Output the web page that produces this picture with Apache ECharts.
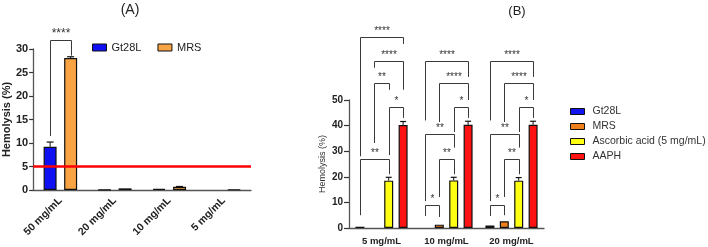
<!DOCTYPE html>
<html>
<head>
<meta charset="utf-8">
<script src="https://cdn.jsdelivr.net/npm/echarts@6/dist/echarts.min.js"></script>
<style>html,body{margin:0;padding:0;background:#fff}#c{width:708px;height:247px}</style>
</head>
<body>
<div id="c"></div>
<script>
// ---- Panel A data ----
const catsA = ['50 mg/mL', '20 mg/mL', '10 mg/mL', '5 mg/mL'];
const gtA = [9.2, 0.05, 0.25, 0.0];
const mrsA = [28.1, 0.35, 0.7, 0.1];
const gtAErr = [1.0, 0, 0, 0];
const mrsAErr = [0.25, 0, 0.05, 0];
const thresholdA = 5;
const yTicksA = [0, 5, 10, 15, 20, 25, 30];
// brackets: [category, leftBar, rightBar, top, leftEnd, rightEnd]
const bracketsA = [[0, 0, 1, 31.9, 11.5, 28.6]];
const bracketLabelsA = ['****'];

// ---- Panel B data ----
const catsB = ['5 mg/mL', '10 mg/mL', '20 mg/mL'];
const gtB = [0.5, 0, 1.0];
const mrsB = [0, 1.3, 2.6];
const ascB = [18.5, 18.6, 18.5];
const aaphB = [40.2, 40.3, 40.3];
const gtBErr = [0, 0, 0];
const mrsBErr = [0, 0, 0];
const ascBErr = [1.3, 1.2, 1.2];
const aaphBErr = [1.4, 1.4, 1.4];
const yTicksB = [0, 10, 20, 30, 40, 50];
const bracketsB = [
  [0, 0, 2, 27.0, 5.0, 21.0],
  [0, 2, 3, 47.3, 28.5, 43.0],
  [0, 1, 2, 56.6, 33.2, 54.0],
  [0, 1, 3, 65.2, 62.6, 54.0],
  [0, 0, 3, 74.6, 28.0, 71.9],
  [1, 0, 1, 9.0, 4.7, 4.3],
  [1, 1, 2, 27.0, 12.1, 21.0],
  [1, 0, 2, 36.7, 10.5, 31.4],
  [1, 2, 3, 47.3, 37.5, 43.0],
  [1, 1, 3, 56.6, 41.4, 50.0],
  [1, 0, 3, 65.2, 42.0, 59.0],
  [2, 0, 1, 9.0, 4.7, 5.0],
  [2, 1, 2, 27.0, 12.1, 21.0],
  [2, 0, 2, 36.7, 10.5, 31.4],
  [2, 2, 3, 47.3, 37.5, 43.0],
  [2, 1, 3, 56.6, 41.4, 50.0],
  [2, 0, 3, 65.2, 42.0, 59.0]
];
const bracketLabelsB = ['**', '*', '**', '****', '****', '*', '**', '**', '*', '****', '****', '*', '**', '**', '*', '****', '****'];

const colA = {gt: '#1010f5', mrs: '#f8a444'};
const colB = {gt: '#1414f0', mrs: '#f0801c', asc: '#ffff14', aaph: '#ff1212'};

const offsetsA = [-10.25, 10.25];
const offsetsB = [-21.6, -7.2, 7.2, 21.6];

function errRender(offsets, cap) {
  return function (params, api) {
    const c = api.value(0), v = api.value(1), e = api.value(2), s = api.value(3);
    if (!e) return null;
    const p0 = api.coord([c, v]);
    const p1 = api.coord([c, v + e]);
    const x = p0[0] + offsets[s];
    return {type: 'group', children: [
      {type: 'line', shape: {x1: x, y1: p0[1], x2: x, y2: p1[1]}, style: {stroke: '#111', lineWidth: 1}},
      {type: 'line', shape: {x1: x - cap, y1: p1[1], x2: x + cap, y2: p1[1]}, style: {stroke: '#111', lineWidth: 1.2}}
    ]};
  };
}
function bracketRender(offsets, labels, fs) {
  return function (params, api) {
    const c = api.value(0), iL = api.value(1), iR = api.value(2);
    const base = api.coord([c, 0])[0];
    const xL = Math.round(base + offsets[iL]) + 0.5, xR = Math.round(base + offsets[iR]) + 0.5;
    const pT = Math.round(api.coord([c, api.value(3)])[1]) + 0.5;
    const pL = api.coord([c, api.value(4)])[1];
    const pR = api.coord([c, api.value(5)])[1];
    return {type: 'group', children: [
      {type: 'polyline', shape: {points: [[xL, pL], [xL, pT], [xR, pT], [xR, pR]]}, style: {stroke: '#3a3a3a', lineWidth: 1, fill: null}},
      {type: 'text', style: {text: labels[params.dataIndex], x: (xL + xR) / 2, y: pT - 1, align: 'center', verticalAlign: 'bottom', fontSize: fs, fill: '#333', fontFamily: 'Liberation Sans'}}
    ]};
  };
}
function errData(vals, errs, s) { return vals.map((v, i) => [i, v, errs[i], s]); }
// zero-height bars are not drawn at all (no flat border)
const barData = vals => vals.map(v => (v === 0 ? null : v));

const barStyle = c => ({color: c, borderColor: '#111', borderWidth: 1.2});
const axisCol = '#555';

const option = {
  animation: false,
  textStyle: {fontFamily: 'Liberation Sans, Arial, sans-serif'},
  title: [
    {text: '(A)', left: 125, top: -2, textAlign: 'center', textStyle: {fontSize: 14, fontWeight: 'normal', color: '#222'}},
    {text: '(B)', left: 512, top: 0, textAlign: 'center', textStyle: {fontSize: 13, fontWeight: 'normal', color: '#222'}}
  ],
  legend: [
    {left: 87, top: 37, orient: 'horizontal', itemWidth: 14, itemHeight: 7, itemGap: 16,
     textStyle: {fontSize: 11, color: '#222'},
     data: [
       {name: 'Gt28L', icon: 'rect', itemStyle: {color: colA.gt, borderColor: '#111', borderWidth: 1}},
       {name: 'MRS', icon: 'rect', itemStyle: {color: colA.mrs, borderColor: '#111', borderWidth: 1}}
     ]},
    {left: 565, top: 101, orient: 'vertical', itemWidth: 14, itemHeight: 6, itemGap: 4,
     textStyle: {fontSize: 10.5, color: '#333', padding: [0, 0, 0, 3]},
     data: [
       {name: 'Gt28L', icon: 'rect', itemStyle: {color: colB.gt, borderColor: '#111', borderWidth: 1}},
       {name: 'MRS', icon: 'rect', itemStyle: {color: colB.mrs, borderColor: '#111', borderWidth: 1}},
       {name: 'Ascorbic acid (5 mg/mL)', icon: 'rect', itemStyle: {color: colB.asc, borderColor: '#111', borderWidth: 1}},
       {name: 'AAPH', icon: 'rect', itemStyle: {color: colB.aaph, borderColor: '#111', borderWidth: 1}}
     ]}
  ],
  grid: [
    {left: 33, top: 49, width: 218, height: 141},
    {left: 349, top: 100, width: 195, height: 128}
  ],
  xAxis: [
    {type: 'category', gridIndex: 0, data: catsA,
     axisLine: {lineStyle: {color: axisCol, width: 1.3}},
     axisTick: {alignWithLabel: true, length: 5, lineStyle: {color: '#333', width: 1.2}},
     axisLabel: {rotate: 45, fontSize: 10.5, fontWeight: 'bold', color: '#222', margin: 9, interval: 0}},
    {type: 'category', gridIndex: 1, data: catsB,
     axisLine: {lineStyle: {color: axisCol, width: 1.3}},
     axisTick: {alignWithLabel: true, length: 4, lineStyle: {color: '#333', width: 1.2}},
     axisLabel: {fontSize: 9.5, fontWeight: 'bold', color: '#222', margin: 8, interval: 0}}
  ],
  yAxis: [
    {type: 'value', gridIndex: 0, min: yTicksA[0], max: yTicksA[yTicksA.length - 1], interval: yTicksA[1] - yTicksA[0],
     name: 'Hemolysis (%)', nameLocation: 'middle', nameGap: 20,
     nameTextStyle: {fontSize: 11, fontWeight: 'bold', color: '#222'},
     axisLine: {show: true, lineStyle: {color: axisCol, width: 1.3}},
     axisTick: {show: true, length: 4, lineStyle: {color: '#333', width: 1.2}},
     axisLabel: {fontSize: 11, fontWeight: 'bold', color: '#222', margin: 5},
     splitLine: {show: false}},
    {type: 'value', gridIndex: 1, min: yTicksB[0], max: yTicksB[yTicksB.length - 1], interval: yTicksB[1] - yTicksB[0],
     name: 'Hemolysis (%)', nameLocation: 'middle', nameGap: 22,
     nameTextStyle: {fontSize: 9, color: '#333'},
     axisLine: {show: true, lineStyle: {color: axisCol, width: 1.3}},
     axisTick: {show: true, length: 5, lineStyle: {color: '#333', width: 1.2}},
     axisLabel: {fontSize: 10, fontWeight: 'bold', color: '#222', margin: 6},
     splitLine: {show: false}}
  ],
  series: [
    {name: 'Gt28L', type: 'bar', xAxisIndex: 0, yAxisIndex: 0, data: barData(gtA), barWidth: 13, barGap: '58%', itemStyle: barStyle(colA.gt),
     markLine: {silent: true, symbol: 'none', label: {show: false}, lineStyle: {color: '#f00', width: 2.5, type: 'solid'}, data: [{yAxis: thresholdA}]}},
    {name: 'MRS', type: 'bar', xAxisIndex: 0, yAxisIndex: 0, data: barData(mrsA), barWidth: 13, barGap: '58%', itemStyle: barStyle(colA.mrs)},
    {type: 'custom', xAxisIndex: 0, yAxisIndex: 0, clip: false, z: 5, renderItem: errRender(offsetsA, 3.5),
     data: errData(gtA, gtAErr, 0).concat(errData(mrsA, mrsAErr, 1)), encode: {x: 0, y: 1}},
    {type: 'custom', xAxisIndex: 0, yAxisIndex: 0, clip: false, z: 5, renderItem: bracketRender(offsetsA, bracketLabelsA, 12),
     data: bracketsA, encode: {x: 0, y: 3}},

    {name: 'Gt28L', type: 'bar', xAxisIndex: 1, yAxisIndex: 1, data: barData(gtB), barWidth: 9, barGap: '60%', itemStyle: barStyle(colB.gt)},
    {name: 'MRS', type: 'bar', xAxisIndex: 1, yAxisIndex: 1, data: barData(mrsB), barWidth: 9, barGap: '60%', itemStyle: barStyle(colB.mrs)},
    {name: 'Ascorbic acid (5 mg/mL)', type: 'bar', xAxisIndex: 1, yAxisIndex: 1, data: barData(ascB), barWidth: 9, barGap: '60%', itemStyle: barStyle(colB.asc)},
    {name: 'AAPH', type: 'bar', xAxisIndex: 1, yAxisIndex: 1, data: barData(aaphB), barWidth: 9, barGap: '60%', itemStyle: barStyle(colB.aaph)},
    {type: 'custom', xAxisIndex: 1, yAxisIndex: 1, clip: false, z: 5, renderItem: errRender(offsetsB, 3),
     data: errData(gtB, gtBErr, 0).concat(errData(mrsB, mrsBErr, 1), errData(ascB, ascBErr, 2), errData(aaphB, aaphBErr, 3)), encode: {x: 0, y: 1}},
    {type: 'custom', xAxisIndex: 1, yAxisIndex: 1, clip: false, z: 5, renderItem: bracketRender(offsetsB, bracketLabelsB, 10),
     data: bracketsB, encode: {x: 0, y: 3}}
  ]
};
const chart = echarts.init(document.getElementById('c'), null, {renderer: 'canvas'});
chart.setOption(option);
</script>
</body>
</html>
